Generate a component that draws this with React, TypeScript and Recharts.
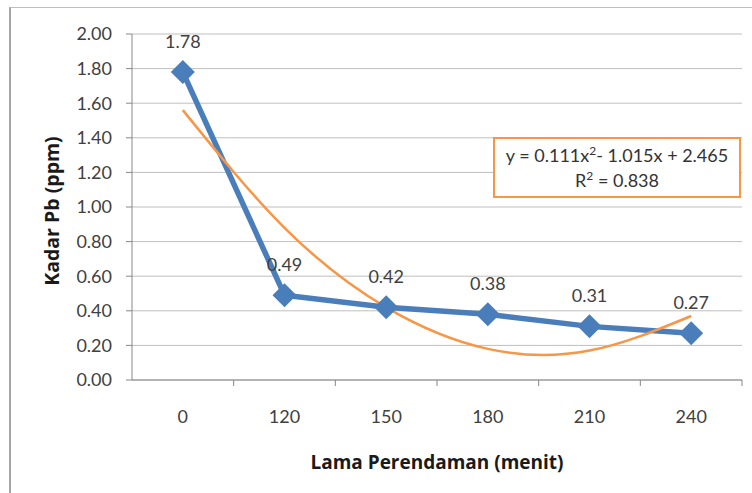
import React from "react";
import { LineChart, Line, XAxis, YAxis, CartesianGrid, LabelList } from "recharts";

// Lama perendaman (menit) categories
const categories = ["0", "120", "150", "180", "210", "240"];
// Kadar Pb (ppm) measured
const kadarPb = [1.78, 0.49, 0.42, 0.38, 0.31, 0.27];
// Polynomial trendline
const trendPb = [1.56, 0.88, 0.42, 0.18, 0.17, 0.37];
const yTicks = [0, 0.2, 0.4, 0.6, 0.8, 1.0, 1.2, 1.4, 1.6, 1.8, 2.0];

const chartData = categories.map((c, i) => ({
  menit: c,
  kadar: kadarPb[i],
  trend: trendPb[i],
}));

const FONT = "Lato, 'Open Sans', sans-serif";
const PLOT_W = 610;
const HALF_BAND = PLOT_W / categories.length / 2;

const Diamond = (props: any) => {
  const { cx, cy, index } = props;
  if (cx == null || cy == null) return null;
  const r = 12;
  return (
    <polygon
      key={index}
      points={`${cx},${cy - r} ${cx + r},${cy} ${cx},${cy + r} ${cx - r},${cy}`}
      fill="#4A7EBB"
    />
  );
};

// category label in the middle, tick mark on the band edge (Excel style)
const XTick = (props: any) => {
  const { x, y, payload } = props;
  return (
    <g>
      <line x1={x + HALF_BAND} x2={x + HALF_BAND} y1={y} y2={y + 6} stroke="#888" />
      <text
        x={x}
        y={y + 43}
        textAnchor="middle"
        fill="#404040"
        fontSize={18}
        fontFamily={FONT}
      >
        {payload.value}
      </text>
    </g>
  );
};

export default function App() {
  return (
    <div
      style={{
        position: "absolute",
        left: 0,
        top: 0,
        width: 752,
        height: 493,
        background: "#fff",
        overflow: "hidden",
      }}
    >
      <div
        style={{
          position: "absolute",
          left: 9,
          top: 7,
          width: 760,
          height: 500,
          borderLeft: "2px solid #A6A6A6",
          borderTop: "1px solid #BFBFBF",
        }}
      />
      <LineChart
        width={752}
        height={493}
        data={chartData}
        margin={{ top: 34, right: 10, left: 72, bottom: 83 }}
        style={{ position: "absolute", left: 0, top: 0 }}
      >
        <CartesianGrid vertical={false} stroke="#BFBFBF" />
        <XAxis
          dataKey="menit"
          height={30}
          stroke="#888"
          tickLine={false}
          tickSize={0}
          tickMargin={0}
          padding={{ left: HALF_BAND, right: HALF_BAND }}
          tick={<XTick />}
        />
        <YAxis
          width={60}
          domain={[0, 2]}
          ticks={yTicks}
          interval={0}
          stroke="#888"
          tickSize={6}
          tickMargin={14}
          tickFormatter={(v: number) => v.toFixed(2)}
          tick={{ fill: "#404040", fontSize: 18, fontFamily: FONT }}
        />
        <Line
          dataKey="kadar"
          type="linear"
          stroke="#4A7EBB"
          strokeWidth={5.5}
          dot={Diamond}
          activeDot={false}
          isAnimationActive={false}
        >
          <LabelList
            dataKey="kadar"
            position="top"
            offset={24}
            formatter={(v: any) => Number(v).toFixed(2)}
            fill="#404040"
            fontSize={18}
            fontFamily={FONT}
          />
        </Line>
        <Line
          dataKey="trend"
          type="natural"
          stroke="#F79646"
          strokeWidth={2.5}
          dot={false}
          activeDot={false}
          isAnimationActive={false}
        />
      </LineChart>
      <div
        style={{
          position: "absolute",
          left: 493,
          top: 137,
          width: 248,
          height: 61,
          border: "2px solid #F79646",
          background: "#fff",
          fontFamily: FONT,
          fontSize: 18,
          color: "#333",
          textAlign: "center",
          lineHeight: "25px",
          paddingTop: 4,
          boxSizing: "border-box",
        }}
      >
        <div>
          y = 0.111x<sup style={{ fontSize: 12, lineHeight: 0 }}>2</sup>- 1.015x + 2.465
        </div>
        <div>
          R<sup style={{ fontSize: 12, lineHeight: 0 }}>2</sup> = 0.838
        </div>
      </div>
      <div
        style={{
          position: "absolute",
          left: 0,
          width: 874,
          top: 449,
          textAlign: "center",
          fontFamily: "'Open Sans', sans-serif",
          fontWeight: "bold",
          fontSize: 19,
          color: "#1a1a1a",
        }}
      >
        Lama Perendaman (menit)
      </div>
      <div
        style={{
          position: "absolute",
          left: 52,
          top: 211,
          width: 300,
          marginLeft: -150,
          marginTop: -13,
          lineHeight: "26px",
          transform: "rotate(-90deg)",
          textAlign: "center",
          fontFamily: "'Open Sans', sans-serif",
          fontWeight: "bold",
          fontSize: 19.5,
          color: "#1a1a1a",
        }}
      >
        Kadar Pb (ppm)
      </div>
    </div>
  );
}
